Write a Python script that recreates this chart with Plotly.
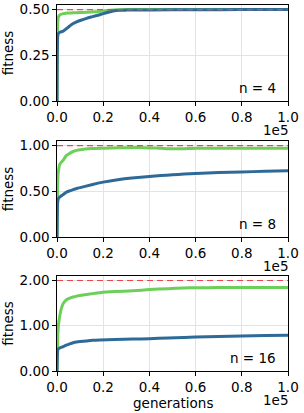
import plotly.graph_objects as go

# ---------------- data ----------------
x_ticks = [0, 20000, 40000, 60000, 80000, 100000]
x_ticklabels = ["0.0", "0.2", "0.4", "0.6", "0.8", "1.0"]

# n = 4
gen4 = [0, 300, 600, 1300, 2700, 4000, 5500, 7000, 8500, 10000, 12800, 15000, 18600, 21000, 24400, 27000, 30000, 40000, 60000, 80000, 100000]
green4 = [0.0, 0.42, 0.46, 0.472, 0.478, 0.48, 0.481, 0.482, 0.483, 0.484, 0.485, 0.487, 0.49, 0.494, 0.498, 0.499, 0.5, 0.5, 0.5, 0.5, 0.5]
blue4 = [0.0, 0.35, 0.37, 0.376, 0.382, 0.395, 0.41, 0.424, 0.433, 0.44, 0.452, 0.46, 0.472, 0.481, 0.492, 0.496, 0.497, 0.498, 0.499, 0.5, 0.5]
opt4 = 0.5

# n = 8
gen8 = [0, 300, 600, 1300, 2700, 4000, 5500, 7000, 8500, 10000, 15000, 20000, 27000, 35000, 45000, 50000, 55000, 60000, 70000, 80000, 90000, 100000]
green8 = [0.0, 0.6, 0.72, 0.80, 0.84, 0.89, 0.915, 0.935, 0.947, 0.955, 0.968, 0.972, 0.976, 0.98, 0.97, 0.965, 0.966, 0.97, 0.97, 0.97, 0.97, 0.97]
blue8 = [0.0, 0.38, 0.42, 0.44, 0.465, 0.49, 0.505, 0.518, 0.53, 0.54, 0.572, 0.60, 0.63, 0.652, 0.672, 0.68, 0.688, 0.695, 0.705, 0.712, 0.718, 0.725]
opt8 = 1.0

# n = 16
gen16 = [0, 300, 600, 1300, 2000, 2700, 4000, 5500, 7000, 8500, 10000, 12800, 15500, 18600, 25000, 33000, 40000, 48000, 55000, 60000, 70000, 80000, 90000, 100000]
green16 = [0.0, 0.7, 1.0, 1.25, 1.4, 1.49, 1.57, 1.61, 1.635, 1.655, 1.67, 1.69, 1.71, 1.73, 1.755, 1.775, 1.80, 1.82, 1.835, 1.84, 1.845, 1.845, 1.845, 1.845]
blue16 = [0.0, 0.45, 0.49, 0.51, 0.525, 0.54, 0.57, 0.60, 0.625, 0.64, 0.65, 0.665, 0.677, 0.685, 0.695, 0.705, 0.715, 0.73, 0.742, 0.75, 0.762, 0.775, 0.783, 0.79]
opt16 = 2.0

panels = [
    (gen4, green4, blue4, opt4, "n = 4", [0, 0.25, 0.5], ["0.00", "0.25", "0.50"], 0.525),
    (gen8, green8, blue8, opt8, "n = 8", [0, 0.5, 1.0], ["0.00", "0.50", "1.00"], 1.05),
    (gen16, green16, blue16, opt16, "n = 16", [0, 1.0, 2.0], ["0.00", "1.00", "2.00"], 2.1),
]

# ---------------- layout ----------------
W, H = 304, 413
x_dom = [57 / W, 288 / W]
y_px = [(5, 101), (141, 237), (276, 371)]

GREEN = "#6bcf58"
BLUE = "#2e6a98"
FONT = "DejaVu Sans"
FS = 13.5

fig = go.Figure()
layout = dict(
    width=W, height=H,
    margin=dict(l=0, r=0, t=0, b=0, autoexpand=False),
    paper_bgcolor="white", plot_bgcolor="white",
    showlegend=False,
    font=dict(family=FONT, size=FS, color="black"),
)
annotations = []

for i, (gx, gg, gb, opt, label, yt, ytl, ymax) in enumerate(panels):
    k = "" if i == 0 else str(i + 1)
    xa, ya = "x" + k, "y" + k
    top, bot = y_px[i]
    layout["xaxis" + k] = dict(
        domain=x_dom, anchor=ya, range=[0, 100000], automargin=False,
        tickvals=x_ticks, ticktext=x_ticklabels,
        ticks="outside", ticklen=3.5, tickwidth=1, tickcolor="black",
        showline=True, linecolor="black", linewidth=1.3, mirror=True,
        showgrid=True, gridcolor="#e3e3e3", gridwidth=1,
        zeroline=False, tickfont=dict(size=FS),
    )
    layout["yaxis" + k] = dict(
        domain=[1 - bot / H, 1 - top / H], anchor=xa, range=[0, ymax], automargin=False,
        tickvals=yt, ticktext=ytl,
        ticks="outside", ticklen=3.5, tickwidth=1, tickcolor="black",
        showline=True, linecolor="black", linewidth=1.3, mirror=True,
        showgrid=True, gridcolor="#e3e3e3", gridwidth=1,
        zeroline=False, tickfont=dict(size=FS),
        title=dict(text="fitness", font=dict(size=FS), standoff=3),
    )
    fig.add_trace(go.Scatter(x=gx, y=gg, mode="lines", line=dict(color=GREEN, width=3, shape="spline", smoothing=0.6), xaxis=xa, yaxis=ya))
    fig.add_trace(go.Scatter(x=gx, y=gb, mode="lines", line=dict(color=BLUE, width=3, shape="spline", smoothing=0.6), xaxis=xa, yaxis=ya))
    fig.add_trace(go.Scatter(x=[0, 100000], y=[opt, opt], mode="lines",
                             line=dict(color="#e8474b", width=1.2, dash="6px,4px"),
                             xaxis=xa, yaxis=ya))
    annotations.append(dict(
        text=label, x=0.955, y=0.03, xref=xa + " domain", yref=ya + " domain",
        xanchor="right", yanchor="bottom", showarrow=False, font=dict(size=FS),
    ))
    annotations.append(dict(
        text="1e5", x=290 / W, y=1 - (bot + 19) / H, xref="paper",
        yref="paper", xanchor="right", yanchor="top", showarrow=False, font=dict(size=FS),
    ))

annotations.append(dict(
    text="generations", x=(57 + 288) / 2 / W, y=1 - 393 / H, xref="paper", yref="paper",
    xanchor="center", yanchor="top", showarrow=False, font=dict(size=FS),
))

layout["annotations"] = annotations
fig.update_layout(**layout)
fig.write_html("out.html", config={"displayModeBar": False},
               post_script="document.body.style.margin='0';document.body.style.overflow='hidden';")
